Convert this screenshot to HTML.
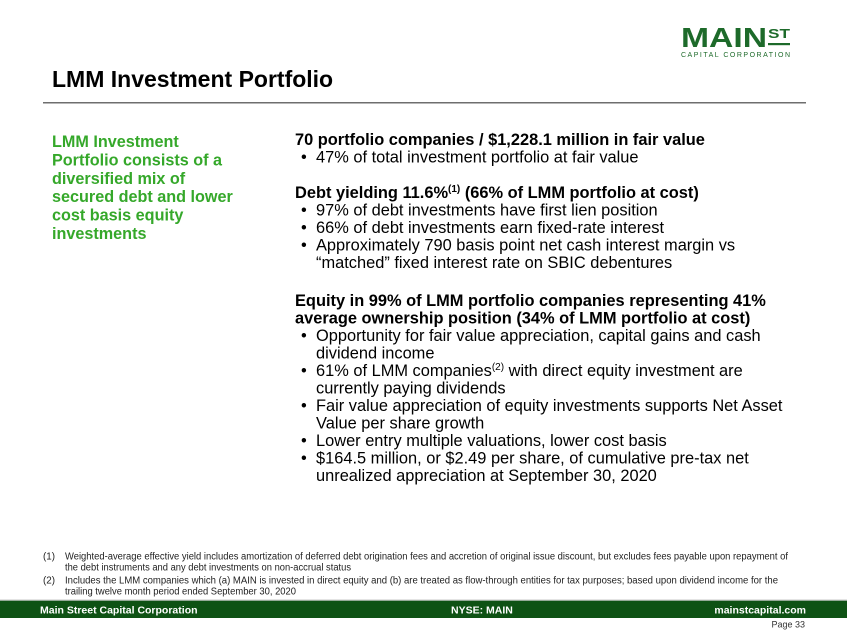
<!DOCTYPE html>
<html>
<head>
<meta charset="utf-8">
<style>
  html,body{margin:0;padding:0;background:#fff;}
  svg{display:block;}
  text{font-family:"Liberation Sans",Arial,sans-serif;}
</style>
</head>
<body>
<svg width="847" height="635" viewBox="0 0 847 635" xmlns="http://www.w3.org/2000/svg">
  <rect width="847" height="635" fill="#ffffff"/>

  <!-- Logo -->
  <text x="681" y="47" font-size="28" font-weight="bold" fill="#1d6a2a" textLength="86" lengthAdjust="spacingAndGlyphs">MAIN</text>
  <text x="768" y="38" font-size="13" font-weight="bold" fill="#1d6a2a" textLength="22" lengthAdjust="spacingAndGlyphs">ST</text>
  <rect x="768" y="43" width="22" height="2.2" fill="#1d6a2a"/>
  <text x="681" y="57" font-size="7" fill="#1d6a2a" textLength="109" lengthAdjust="spacing">CAPITAL CORPORATION</text>

  <!-- Title -->
  <text x="52" y="87" font-size="23" font-weight="bold" fill="#000">LMM Investment Portfolio</text>
  <rect x="43" y="102" width="763" height="1.5" fill="#6e6e6e"/>

  <!-- Left green text -->
  <g font-size="16.2" font-weight="bold" fill="#35a82a">
    <text x="52" y="147">LMM Investment</text>
    <text x="52" y="165.4">Portfolio consists of a</text>
    <text x="52" y="183.8">diversified mix of</text>
    <text x="52" y="202.2">secured debt and lower</text>
    <text x="52" y="220.6">cost basis equity</text>
    <text x="52" y="239">investments</text>
  </g>

  <!-- Right column -->
  <g font-size="16.4" fill="#000">
    <text x="295" y="145" font-weight="bold">70 portfolio companies / $1,228.1 million in fair value</text>
    <text x="301" y="162.5">•</text><text x="316" y="162.5">47% of total investment portfolio at fair value</text>

    <text x="295" y="198" font-weight="bold">Debt yielding 11.6%<tspan font-size="10" dy="-6">(1)</tspan><tspan dy="6"> (66% of LMM portfolio at cost)</tspan></text>
    <text x="301" y="215.5">•</text><text x="316" y="215.5">97% of debt investments have first lien position</text>
    <text x="301" y="233">•</text><text x="316" y="233">66% of debt investments earn fixed-rate interest</text>
    <text x="301" y="250.5">•</text><text x="316" y="250.5">Approximately 790 basis point net cash interest margin vs</text>
    <text x="316" y="268">“matched” fixed interest rate on SBIC debentures</text>

    <text x="295" y="306" font-weight="bold">Equity in 99% of LMM portfolio companies representing 41%</text>
    <text x="295" y="323.5" font-weight="bold">average ownership position (34% of LMM portfolio at cost)</text>
    <text x="301" y="341">•</text><text x="316" y="341">Opportunity for fair value appreciation, capital gains and cash</text>
    <text x="316" y="358.5">dividend income</text>
    <text x="301" y="376">•</text><text x="316" y="376">61% of LMM companies<tspan font-size="10" dy="-6">(2)</tspan><tspan dy="6"> with direct equity investment are</tspan></text>
    <text x="316" y="393.5">currently paying dividends</text>
    <text x="301" y="411">•</text><text x="316" y="411">Fair value appreciation of equity investments supports Net Asset</text>
    <text x="316" y="428.5">Value per share growth</text>
    <text x="301" y="446">•</text><text x="316" y="446">Lower entry multiple valuations, lower cost basis</text>
    <text x="301" y="463.5">•</text><text x="316" y="463.5">$164.5 million, or $2.49 per share, of cumulative pre-tax net</text>
    <text x="316" y="481">unrealized appreciation at September 30, 2020</text>
  </g>

  <!-- Footnotes -->
  <g font-size="10" fill="#222">
    <text x="43" y="559.5" textLength="12" lengthAdjust="spacingAndGlyphs">(1)</text>
    <text x="65" y="559.5" textLength="723" lengthAdjust="spacingAndGlyphs">Weighted-average effective yield includes amortization of deferred debt origination fees and accretion of original issue discount, but excludes fees payable upon repayment of</text>
    <text x="65" y="570.5" textLength="286" lengthAdjust="spacingAndGlyphs">the debt instruments and any debt investments on non-accrual status</text>
    <text x="43" y="583.5" textLength="12" lengthAdjust="spacingAndGlyphs">(2)</text>
    <text x="65" y="583.5" textLength="713" lengthAdjust="spacingAndGlyphs">Includes the LMM companies which (a) MAIN is invested in direct equity and (b) are treated as flow-through entities for tax purposes; based upon dividend income for the</text>
    <text x="65" y="594.5" textLength="231" lengthAdjust="spacingAndGlyphs">trailing twelve month period ended September 30, 2020</text>
  </g>

  <!-- Footer bar -->
  <rect x="0" y="599.5" width="847" height="1.2" fill="#c8c8c8"/>
  <rect x="0" y="600.7" width="847" height="17.3" fill="#0e5214"/>
  <g font-size="10.5" font-weight="bold" fill="#ffffff">
    <text x="40" y="613.3">Main Street Capital Corporation</text>
    <text x="451" y="613.3">NYSE: MAIN</text>
    <text x="806" y="613.3" text-anchor="end">mainstcapital.com</text>
  </g>
  <text x="805" y="627.5" font-size="9" fill="#333" text-anchor="end">Page  33</text>
</svg>
</body>
</html>
